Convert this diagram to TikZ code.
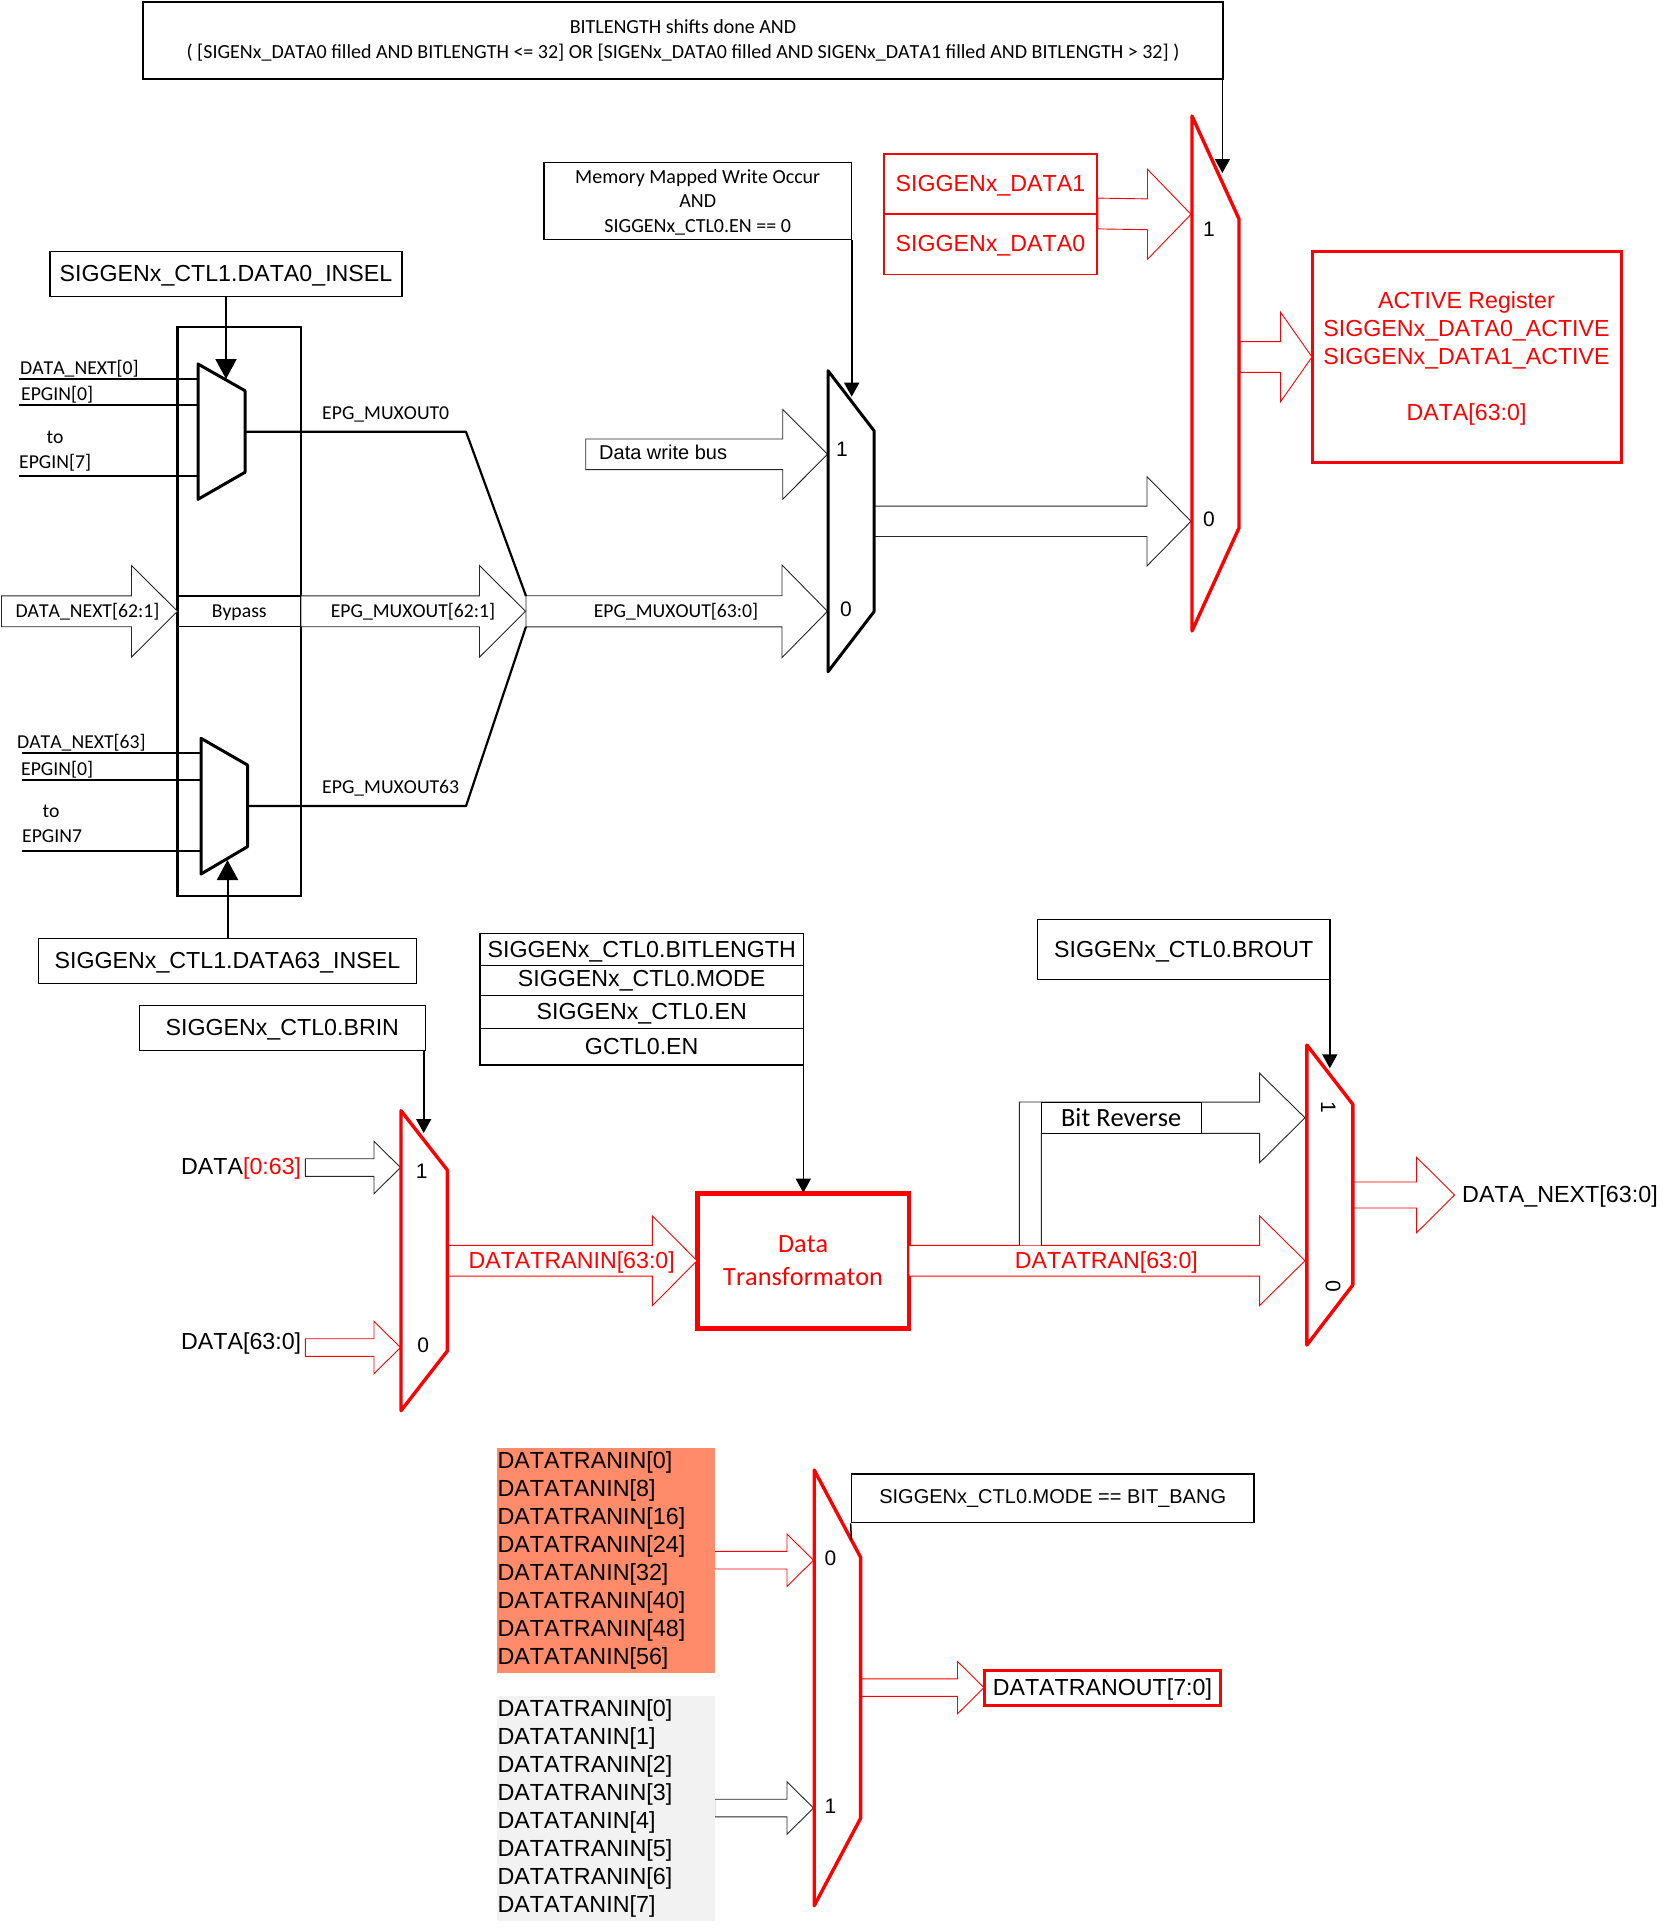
\documentclass[tikz,border=0pt]{standalone}
\usepackage{fontspec}
\setmainfont[Kerning=Off]{Liberation Sans}
\newfontfamily\carlito[Kerning=Off]{Carlito}
\usetikzlibrary{calc,arrows.meta}

\definecolor{orangefill}{HTML}{FF8B6B}
\definecolor{grayfill}{HTML}{F2F2F2}

\tikzset{
  regbox/.style={draw=black,line width=1.5pt,inner sep=0pt,align=center},
  redbox/.style={draw=red,line width=1.6pt,inner sep=0pt,align=center,text=red},
  arblock/.style={font=\fontsize{23.2}{28}\selectfont},
  ar/.style={arblock,text height=20pt},
  arsmall/.style={font=\fontsize{20}{24}\selectfont},
  arlist/.style={font=\fontsize{23.3}{28}\selectfont},
  calblock/.style={font=\carlito\fontsize{20}{24.4}\selectfont},
  cal/.style={font=\carlito\fontsize{19.7}{24.2}\selectfont,text height=16.5pt},
  calbig/.style={font=\carlito\fontsize{26.3}{32.4}\selectfont},
  lab/.style={inner sep=0pt,align=center},
  labl/.style={inner sep=0pt,anchor=west},
  pinlab/.style={inner sep=0pt,font=\fontsize{21}{25}\selectfont},
  bus/.style={draw=black!85,line width=0.9pt,fill=white,line join=miter},
  redbus/.style={bus,draw=red},
  muxblack/.style={draw=black,line width=3pt,fill=white,line join=round},
  muxred/.style={draw=red,line width=3.4pt,fill=white,line join=round},
  wire/.style={draw=black,line width=2.2pt,line join=round},
  ctrl/.style={draw=black,line width=1.6pt,-{Triangle[width=15pt,length=14pt]}},
  ctrlbig/.style={draw=black,line width=2pt,-{Triangle[width=21pt,length=20pt]}},
}

% Wide hollow bus arrow between two points at the same height:
% [style]{start}{tip}{half body width}{half head width}{head length}
\newcommand{\busarrow}[6][bus]{%
  \draw[#1] ($(#2)+(0,-#4)$) -- ($(#3)+(-#6,-#4)$) -- ($(#3)+(-#6,-#5)$) -- (#3)
    -- ($(#3)+(-#6,#5)$) -- ($(#3)+(-#6,#4)$) -- ($(#2)+(0,#4)$) -- cycle;}

% Multiplexer outline: [style]{left x}{right x}{y1}{y2}{y3}{y4}
\newcommand{\muxtrap}[7][muxblack]{%
  \draw[#1] (#2,#4) -- (#3,#5) -- (#3,#6) -- (#2,#7) -- cycle;}

\begin{document}
\begin{tikzpicture}[x=1pt,y=-1pt]
\useasboundingbox (0,0) rectangle (1669,1930);
\fill[white] (0,0) rectangle (1669,1930);

% ---- pin positions on the multiplexers ----
\coordinate (muxAout) at (245,431.7);
\coordinate (cornerA) at (466,431.7);
\coordinate (joinA) at (526,596);
\coordinate (muxBout) at (247.5,806);
\coordinate (cornerB) at (466,806);
\coordinate (joinB) at (526,626.7);
\coordinate (joinIn) at (526,611.3);
\coordinate (joinTip) at (525.5,611.3);
\coordinate (muxCin1) at (827.5,454.3);
\coordinate (muxCin0) at (827.5,611.3);
\coordinate (muxCout) at (874,521.3);
\coordinate (muxRin1) at (1191,214.3);
\coordinate (muxRin0) at (1191,521.3);
\coordinate (muxRout) at (1240,357);
\coordinate (muxDin1) at (400.5,1167.5);
\coordinate (muxDin0) at (400.5,1347.5);
\coordinate (muxDout) at (447.3,1260.7);
\coordinate (muxEin1) at (1305,1117.8);
\coordinate (muxEin0) at (1305,1260.7);
\coordinate (muxEout) at (1352.8,1195);
\coordinate (muxFin0) at (813.5,1560.2);
\coordinate (muxFin1) at (813.5,1808);
\coordinate (muxFout) at (860.6,1687.6);

% ---- registers and condition boxes ----
\node[regbox,calblock,minimum width=1080pt,minimum height=77pt] (shiftcond) at (683,40.5)
  {BITLENGTH shifts done AND\\( [SIGENx\_DATA0 filled AND BITLENGTH <= 32] OR [SIGENx\_DATA0 filled AND SIGENx\_DATA1 filled AND BITLENGTH > 32] )};
\node[regbox,calblock,minimum width=307.4pt,minimum height=77pt] (memwrite) at (697.7,200.8)
  {\rule{0pt}{17pt}Memory Mapped Write Occur\\AND\\SIGGENx\_CTL0.EN == 0};
\node[redbox,ar,minimum width=213.3pt,minimum height=60.3pt] (dataone) at (990.4,184.1) {SIGGENx\_DATA1};
\node[redbox,ar,minimum width=213.3pt,minimum height=60pt] (datazero) at (990.4,244.3) {SIGGENx\_DATA0};
\node[redbox,arblock,line width=3pt,minimum width=309pt,minimum height=211pt] (active) at (1466.5,356.5)
  {\rule{0pt}{20.5pt}ACTIVE Register\\SIGGENx\_DATA0\_ACTIVE\\SIGGENx\_DATA1\_ACTIVE\\[28pt]DATA[63:0]};
\node[regbox,ar,minimum width=352pt,minimum height=45pt] (inselzero) at (226,274.2) {SIGGENx\_CTL1.DATA0\_INSEL};
\node[regbox,ar,minimum width=378pt,minimum height=45pt] (inselhigh) at (227.5,960.8) {SIGGENx\_CTL1.DATA63\_INSEL};
\node[draw=black,line width=2.2pt,minimum width=123.5pt,minimum height=569.3pt,inner sep=0pt] (epgframe) at (239.25,611.35) {};
\node[draw=black,line width=1.2pt,cal,text height=14.5pt,inner sep=0pt,minimum width=123.5pt,minimum height=30.7pt] (bypass) at (239.25,611.35) {Bypass};
\node[regbox,ar,minimum width=286pt,minimum height=45pt] (brin) at (282.3,1028.2) {SIGGENx\_CTL0.BRIN};
\node[regbox,ar,minimum width=323.3pt,minimum height=32.4pt] (ctlbits) at (641.7,949.5) {SIGGENx\_CTL0.BITLENGTH};
\node[regbox,ar,text height=17pt,minimum width=323.3pt,minimum height=30pt] (ctlmode) at (641.7,980.7) {SIGGENx\_CTL0.MODE};
\node[regbox,ar,text height=19pt,minimum width=323.3pt,minimum height=32.6pt] (ctlen) at (641.7,1012) {SIGGENx\_CTL0.EN};
\node[regbox,ar,text height=15pt,minimum width=323.3pt,minimum height=36.7pt] (gctl) at (641.7,1046.65) {GCTL0.EN};
\node[regbox,ar,minimum width=292.5pt,minimum height=60pt] (brout) at (1183.75,949.5) {SIGGENx\_CTL0.BROUT};
\node[redbox,calbig,line width=4.5pt,minimum width=211.7pt,minimum height=135pt] (transform) at (803.15,1260.8) {Data\\Transformaton};
\node[regbox,arsmall,minimum width=402.6pt,minimum height=48.7pt] (bitbang) at (1052.7,1498.35) {SIGGENx\_CTL0.MODE == BIT\_BANG};
\node[redbox,ar,text=black,line width=3pt,minimum width=236.8pt,minimum height=35.3pt] (tranout) at (1102.4,1687.65) {DATATRANOUT[7:0]};

% ---- data bus arrows ----
\coordinate (nextleft) at (1.5,611.3);
\coordinate (frameW) at (177.5,611.3);
\coordinate (frameE) at (301,611.3);
\coordinate (busWrite) at (585.7,454.3);
\coordinate (evenSrc) at (714.7,1560.2);
\coordinate (seqSrc) at (714.7,1808);
\coordinate (dataRev) at (305.3,1167.5);
\coordinate (dataFwd) at (305.3,1347.5);
\coordinate (transE) at (909,1260.7);
\coordinate (transW) at (697,1260.7);
\coordinate (nextTip) at (1454.6,1195);
\coordinate (activeW) at (1312,357);
\coordinate (outTip) at (984,1687.6);

\busarrow{nextleft}{frameW}{15.4}{45.8}{46}
\busarrow{frameE}{joinTip}{15.4}{45.8}{46}
\busarrow{joinIn}{muxCin0}{15.6}{46.3}{45.5}
\busarrow{busWrite}{muxCin1}{15.3}{44.9}{44.8}
\busarrow{muxCout}{muxRin0}{15.2}{44.6}{44}
\busarrow[redbus]{datazero.north east}{muxRin1}{15.4}{45}{43.5}
\busarrow[redbus]{muxRout}{activeW}{15.4}{44.7}{31.4}
\busarrow{dataRev}{muxDin1}{8.8}{26.2}{26.5}
\busarrow[redbus]{dataFwd}{muxDin0}{8.8}{26.2}{26.5}
\busarrow[redbus]{muxDout}{transW}{15.4}{45}{44.7}
\busarrow[redbus]{transE}{muxEin0}{15.4}{44.8}{45.4}
\busarrow[redbus]{muxEout}{nextTip}{13}{37.7}{38}
\busarrow[redbus]{evenSrc}{muxFin0}{8.8}{26.2}{26.5}
\busarrow{seqSrc}{muxFin1}{8.8}{26.2}{26.5}
\busarrow[redbus]{muxFout}{outTip}{8.8}{26.2}{26.5}

% Bit-reversed branch rises from the transform output, then turns right
\coordinate (revL) at (1019.3,1245.3);
\coordinate (revR) at (1041.3,1245.3);
\draw[bus] (revL) -- (1019.3,1102) -- ($(muxEin1)+(-45.4,-15.7)$) -- ($(muxEin1)+(-45.4,-44.6)$)
  -- (muxEin1) -- ($(muxEin1)+(-45.4,44.9)$) -- ($(muxEin1)+(-45.4,15.5)$) -- (1041.3,1133.3) -- (revR);
\node[regbox,calbig,line width=0.9pt,fill=white,minimum width=159.7pt,minimum height=31.3pt] (bitrev) at (1121.15,1117.65) {Bit Reverse};

% ---- input select multiplexers and their wires ----
\draw[wire] (19,379) coordinate (inAa) -- (198,379);
\draw[wire] (19,405) coordinate (inAb) -- (198,405);
\draw[wire] (19,476) coordinate (inAc) -- (198,476);
\draw[wire] (22,753.3) coordinate (inBa) -- (201,753.3);
\draw[wire] (22,780) coordinate (inBb) -- (201,780);
\draw[wire] (22,851) coordinate (inBc) -- (201,851);
\draw[wire] (muxAout) -- (cornerA) -- (joinA);
\draw[wire] (muxBout) -- (cornerB) -- (joinB);

\muxtrap{198}{245}{364}{390.7}{472.3}{499.3}
\muxtrap{201}{247.5}{738.3}{765}{846.7}{874}
\muxtrap{828}{874}{370.7}{430.7}{611.7}{671.7}
\muxtrap[muxred]{1192}{1239}{116}{219}{528}{631}
\muxtrap[muxred]{401}{447.3}{1110.7}{1170}{1351}{1410.7}
\muxtrap[muxred]{1306.9}{1352.8}{1045}{1104.3}{1285}{1345}
\muxtrap[muxred]{814.2}{860.6}{1470}{1557.3}{1818.3}{1905.7}

% ---- select lines ----
\coordinate (tipA) at (226,379);
\coordinate (tipB) at (227.5,860);
\coordinate (tipC) at (851.7,396.7);
\coordinate (tipR) at (1222.4,173);
\coordinate (tipD) at (423.7,1133);
\coordinate (tipE) at (1329.8,1068.3);
\coordinate (tipT) at (803.3,1192.7);
\coordinate (muxFedge) at (851.4,1540);
\draw[ctrlbig] (inselzero.south -| tipA) -- (tipA);
\draw[ctrlbig] (inselhigh.north -| tipB) -- (tipB);
\draw[ctrl] (memwrite.south -| tipC) -- (tipC);
\draw[ctrl] (shiftcond.south -| tipR) -- (tipR);
\draw[ctrl] (brin.south -| tipD) -- (tipD);
\draw[ctrl] (brout.south -| tipE) -- (tipE);
\draw[ctrl] (gctl.south -| tipT) -- (tipT);
\draw[draw=black,line width=1.5pt] (bitbang.south west) -- (muxFedge);

% ---- pin numbers ----
\node[pinlab] (pc1) at (842,449) {1};
\node[pinlab] (pc0) at (846,609) {0};
\node[pinlab] (pr1) at (1209,229) {1};
\node[pinlab] (pr0) at (1209,519.6) {0};
\node[pinlab] (pd1) at (421.7,1171.7) {1};
\node[pinlab] (pd0) at (423.3,1345.7) {0};
\node[pinlab,rotate=-90] (pe1) at (1328.4,1107.3) {1};
\node[pinlab,rotate=-90] (pe0) at (1333,1286.7) {0};
\node[pinlab] (pf0) at (830.5,1558.7) {0};
\node[pinlab] (pf1) at (830.5,1806.7) {1};

% ---- signal names ----
\node[labl,cal] (sa) at (20,367.7) {DATA\_NEXT[0]};
\node[labl,cal] (sb) at (21,394) {EPGIN[0]};
\node[lab,cal,text height=14.5pt] (sc) at (55,436.6) {to};
\node[labl,cal] (sd) at (19,461.7) {EPGIN[7]};
\node[labl,cal] (se) at (17,742) {DATA\_NEXT[63]};
\node[labl,cal] (sf) at (21,768.7) {EPGIN[0]};
\node[lab,cal,text height=14.5pt] (sg) at (51,810.1) {to};
\node[labl,cal] (sh) at (22,834.7) {EPGIN7};
\node[labl,cal] (si) at (322,412.7) {EPG\_MUXOUT0};
\node[labl,cal] (sj) at (322,786.7) {EPG\_MUXOUT63};
\node[lab,cal] (sk) at (87.5,611) {DATA\_NEXT[62:1]};
\node[lab,cal] (sl) at (413,611) {EPG\_MUXOUT[62:1]};
\node[lab,cal] (sm) at (676,610.7) {EPG\_MUXOUT[63:0]};
\node[labl,arsmall] (sn) at (599,452.7) {Data write bus};
\node[labl,ar] (so) at (181,1166.7) {DATA\textcolor{red}{[0:63]}};
\node[labl,ar] (sp) at (181,1341.7) {DATA[63:0]};
\node[lab,ar,text=red] (sq) at (571.7,1260.7) {DATATRANIN[63:0]};
\node[lab,ar,text=red] (sr) at (1106.4,1260.7) {DATATRAN[63:0]};
\node[labl,arlist] (ss) at (1462,1196) {DATA\_NEXT[63:0]};

% ---- byte lane source lists ----
\node[fill=orangefill,arlist,inner sep=0pt,text width=216.4pt,align=left,inner xsep=0.75pt,minimum height=224.7pt] (evenlist) at (605.75,1560.35)
  {DATATRANIN[0]\\DATATANIN[8]\\DATATRANIN[16]\\DATATRANIN[24]\\DATATANIN[32]\\DATATRANIN[40]\\DATATRANIN[48]\\DATATANIN[56]};
\node[fill=grayfill,arlist,inner sep=0pt,text width=216.4pt,align=left,inner xsep=0.75pt,minimum height=224.7pt] (seqlist) at (605.75,1808.65)
  {DATATRANIN[0]\\DATATANIN[1]\\DATATRANIN[2]\\DATATRANIN[3]\\DATATANIN[4]\\DATATRANIN[5]\\DATATRANIN[6]\\DATATANIN[7]};
\end{tikzpicture}
\end{document}
